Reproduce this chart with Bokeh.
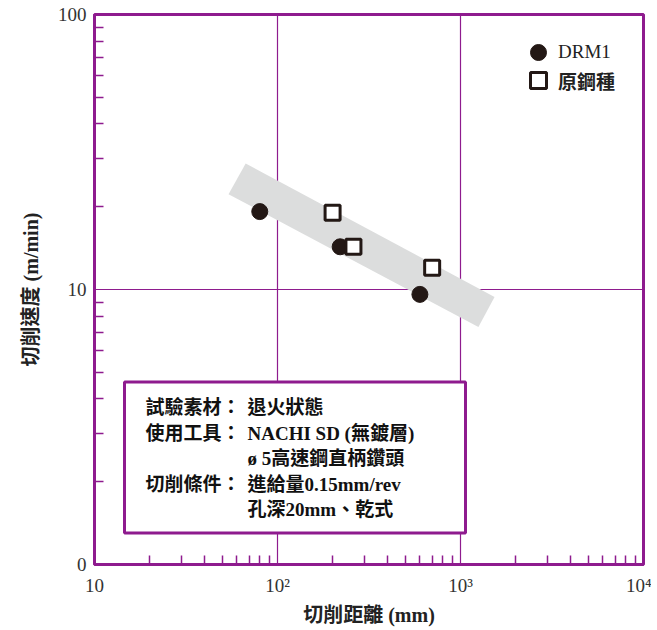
from bokeh.plotting import figure
from bokeh.models import FixedTicker, Label, BoxAnnotation, Legend, LegendItem
from bokeh.embed import file_html
from bokeh.resources import INLINE

# ---- data ----
drm1_dist = [80, 220, 600]
drm1_speed = [19.2, 14.3, 9.6]
orig_dist = [200, 260, 700]
orig_speed = [19.0, 14.3, 12.0]
band_dist = [67, 1535, 1253, 54]
band_speed = [28.7, 9.4, 7.3, 22.2]

x_ticks = [10, 100, 1000, 10000]
x_tick_labels = ["10", "10²", "10³", "10⁴"]
y_ticks = [1, 10, 100]
y_tick_labels = ["0", "10", "100"]

box_lines = [
    ("試驗素材：", "退火狀態"),
    ("使用工具：", "NACHI SD (無鍍層)"),
    ("", " ø 5高速鋼直柄鑽頭"),
    ("切削條件：", "進給量0.15mm/rev"),
    ("", "孔深20mm、乾式"),
]

PURPLE = "#8e1b8e"
INK = "#231815"
BAND = "#dcdddd"
SERIF = "Liberation Serif, Noto Sans CJK TC"

FL, FT, FW, FH = 94, 14, 549, 550  # frame geometry inside the figure

p = figure(frame_width=FW, frame_height=FH, x_axis_type="log", y_axis_type="log",
           x_range=(10, 1e4), y_range=(1, 100), output_backend="svg", toolbar_location=None,
           min_border_left=FL, min_border_right=8, min_border_top=FT, min_border_bottom=60)
p.background_fill_color = "white"
p.border_fill_color = "white"

# screen pixel -> data helpers (for annotations only)
def px2x(px):
    return 10 ** (1 + (px - FL) / FW * 3)

def py2y(py):
    return 10 ** (2 - (py - FT) / FH * 2)

def minors(lo, hi):
    out = []
    k = lo
    while k < hi:
        out += [m * k for m in range(2, 10)]
        k *= 10
    return out

p.xaxis.ticker = FixedTicker(ticks=x_ticks, minor_ticks=minors(10, 10000))
p.yaxis.ticker = FixedTicker(ticks=y_ticks, minor_ticks=minors(1, 100))
p.xgrid.ticker = FixedTicker(ticks=x_ticks)
p.ygrid.ticker = FixedTicker(ticks=y_ticks)
p.xaxis.major_label_overrides = dict(zip(x_ticks, x_tick_labels))
p.yaxis.major_label_overrides = dict(zip(y_ticks, y_tick_labels))

for ax in (p.xaxis, p.yaxis):
    ax.axis_line_color = PURPLE
    ax.axis_line_width = 3
    ax.major_tick_in = 0
    ax.major_tick_out = 0
    ax.minor_tick_in = 9
    ax.minor_tick_out = 0
    ax.minor_tick_line_color = PURPLE
    ax.minor_tick_line_width = 1.5
    ax.major_label_text_font = "Liberation Serif"
    ax.major_label_text_font_size = "19px"
    ax.major_label_text_color = "#333333"
    ax.axis_label_text_font = SERIF
    ax.axis_label_text_font_style = "bold"
    ax.axis_label_text_font_size = "20px"
    ax.axis_label_text_color = "#222222"

p.xaxis.axis_label = "切削距離 (mm)"
p.yaxis.axis_label = "切削速度 (m/min)"
p.xaxis.major_label_standoff = 10
p.yaxis.major_label_standoff = 8
p.xaxis.axis_label_standoff = 5
p.yaxis.axis_label_standoff = 13

for g in (p.xgrid, p.ygrid):
    g.grid_line_color = PURPLE
    g.grid_line_width = 1.2
    g.grid_line_alpha = 1

p.outline_line_color = PURPLE
p.outline_line_width = 3
p.outline_line_alpha = 1

# gray trend band
p.patch(band_dist, band_speed, fill_color=BAND, line_color=None)

r1 = p.scatter(drm1_dist, drm1_speed, marker="circle", size=16, fill_color=INK, line_color=INK)
r2 = p.scatter(orig_dist, orig_speed, marker="square", size=15, fill_color="white",
               line_color=INK, line_width=3)

common = dict(glyph_width=40, glyph_height=40, padding=0, label_standoff=0,
              border_line_alpha=0, background_fill_alpha=0, label_text_font=SERIF,
              label_text_font_size="19px", label_text_color="#222222")
p.add_layout(Legend(items=[LegendItem(label="DRM1", renderers=[r1])],
                    location=(424, 492), label_text_font_style="normal", **common))
p.add_layout(Legend(items=[LegendItem(label="原鋼種", renderers=[r2])],
                    location=(424, 464), label_text_font_style="bold", **common))

# condition box
p.add_layout(BoxAnnotation(left=px2x(124), right=px2x(465), top=py2y(381.5), bottom=py2y(532.5),
                           fill_color="white", fill_alpha=1, line_color=PURPLE,
                           line_alpha=1, line_width=3))
line_y = [407, 433, 458, 484, 509]
for (head, body), yy in zip(box_lines, line_y):
    if head:
        p.add_layout(Label(x=px2x(145), y=py2y(yy), text=head, text_font=SERIF,
                           text_font_style="bold", text_font_size="19px",
                           text_baseline="middle", text_color="#111111"))
    p.add_layout(Label(x=px2x(247), y=py2y(yy), text=body, text_font=SERIF,
                       text_font_style="bold", text_font_size="19px",
                       text_baseline="middle", text_color="#111111"))

open("out.html", "w").write(file_html(p, INLINE))
